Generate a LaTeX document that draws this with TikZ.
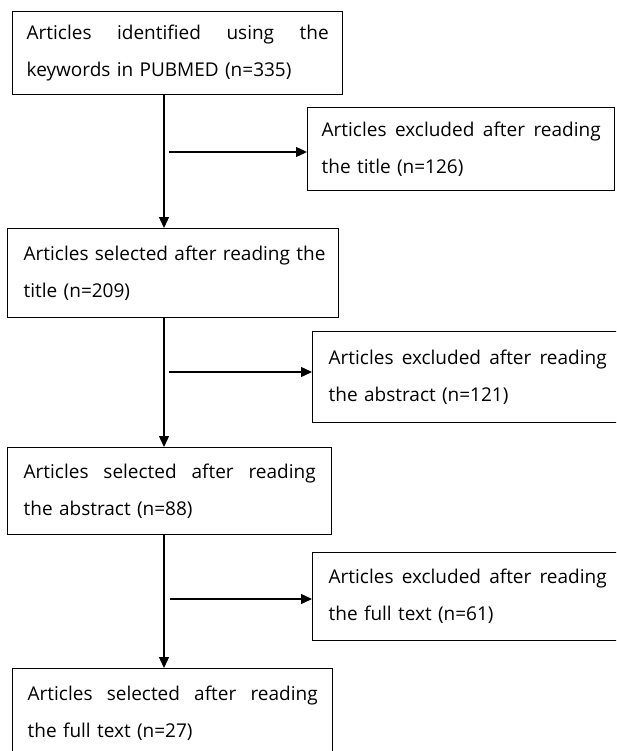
\documentclass[tikz,border=0pt]{standalone}
\usepackage{fontspec}
\setmainfont{Open Sans}
\usetikzlibrary{arrows.meta}
\tikzset{
  box/.style={draw, line width=1.4pt, rectangle, anchor=north west, align=left,
    font=\fontsize{19}{37}\selectfont, inner ysep=0pt},
  flow/.style={line width=1.3pt, -{Triangle[width=10pt,length=11pt]}},
}
\newcommand{\twolines}[2]{\vbox{\hsize=\linewidth
  \hbox to\hsize{#1}\hbox to\hsize{#2\hfil}}}
\begin{document}
\begin{tikzpicture}[x=1pt,y=-1pt]
\path[use as bounding box] (0,0) rectangle (616,751);
\clip (0,0) rectangle (616,751);
% main column
\node[box, minimum width=330pt, minimum height=83pt, text width=302pt, inner xsep=14pt] (b1) at (12,11)
  {\twolines{Articles \hfill identified \hfill using \hfill the}{keywords in PUBMED (n=335)}};
\node[box, minimum width=331pt, minimum height=89pt, text width=299pt, inner xsep=16pt] (b2) at (7,228)
  {\twolines{Articles \hfill selected \hfill after \hfill reading \hfill the}{title (n=209)}};
\node[box, minimum width=324pt, minimum height=87pt, text width=292pt, inner xsep=16pt] (b3) at (7,447)
  {\twolines{Articles \hfill selected \hfill after \hfill reading}{the abstract (n=88)}};
\node[box, minimum width=320pt, minimum height=90pt, text width=290pt, inner xsep=15pt] (b4) at (12,668)
  {\twolines{Articles \hfill selected \hfill after \hfill reading}{the full text (n=27)}};
% excluded boxes
\node[box, minimum width=307pt, minimum height=83pt, text width=279pt, inner xsep=14pt] (e1) at (307,107)
  {\twolines{Articles \hfill excluded \hfill after \hfill reading}{the title (n=126)}};
\node[box, minimum width=310pt, minimum height=91pt, text width=278pt, inner xsep=16pt] (e2) at (312,331)
  {\twolines{Articles \hfill excluded \hfill after \hfill reading}{the abstract (n=121)}};
\node[box, minimum width=310pt, minimum height=88pt, text width=278pt, inner xsep=16pt] (e3) at (312,552)
  {\twolines{Articles \hfill excluded \hfill after \hfill reading}{the full text (n=61)}};
% connectors
\coordinate (sp) at (164,0);
\draw[flow] (b1.south -| sp) -- (b2.north -| sp);
\draw[flow] (b2.south -| sp) -- (b3.north -| sp);
\draw[flow] (b3.south -| sp) -- (b4.north -| sp);
\coordinate (h1) at (169,152);
\coordinate (h2) at (169,372);
\coordinate (h3) at (170,599);
\draw[flow] (h1) -- (h1 -| e1.west);
\draw[flow] (h2) -- (h2 -| e2.west);
\draw[flow] (h3) -- (h3 -| e3.west);
\end{tikzpicture}
\end{document}
